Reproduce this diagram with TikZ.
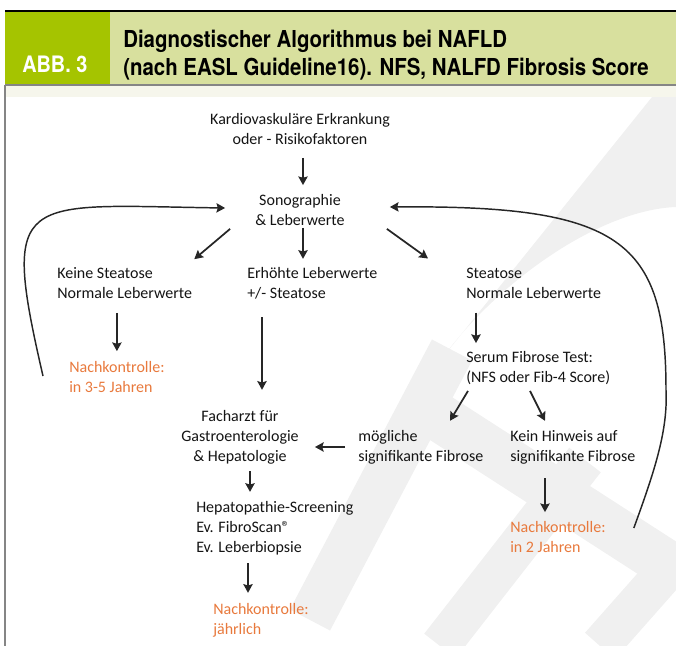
\documentclass[tikz,border=0pt]{standalone}
\usepackage{fontspec}
\setmainfont{Carlito}
\newfontfamily\headfont[FakeStretch=0.876]{TeX Gyre Heros}
\usetikzlibrary{arrows.meta, calc}

\definecolor{abbgreen}{HTML}{A5C400}
\definecolor{headgreen}{HTML}{D8E09E}
\definecolor{stripe}{HTML}{F6F6EC}
\definecolor{frame}{HTML}{858585}
\definecolor{nkorange}{HTML}{E8793C}
\definecolor{wm}{HTML}{F0F0F0}

\tikzset{
  step text/.style={inner sep=0pt, font=\fontsize{12}{15}\selectfont, text=black!92},
  left text/.style={step text, anchor=west, align=left},
  mid text/.style={step text, align=center},
  check text/.style={left text, text=nkorange},
  arr/.style={-{Stealth[length=6.5pt,width=7pt,inset=1pt]}, line width=1.3pt, black!85},
  loop/.style={arr, line width=1.1pt}
}

\begin{document}
\begin{tikzpicture}[x=0.75pt,y=-0.75pt]
\useasboundingbox (0,0) rectangle (676,646);
% faint watermark behind everything
\fill[wm] (652,97) -- (676,97) -- (676,207) .. controls (600,210) and (500,280) .. (443,357) -- cycle;
\draw[wm, line width=34pt] (452,350) -- (310,620);
\draw[wm, line width=36pt] (420,405) -- (676,570);
\draw[wm, line width=30pt] (440,646) -- (585,460);
\draw[wm, line width=30pt] (600,646) -- (676,560);
% header
\fill[headgreen] (110,12) rectangle (676,85);
\fill[abbgreen] (5,12) rectangle (110,85);
\draw[black, line width=1.6pt] (5,11) -- (676,11);
\fill[stripe] (6,86) rectangle (676,97);
\draw[frame, line width=1pt] (5,85) -- (676,85);
\draw[frame, line width=1.4pt] (5,85) -- (5,646);
\node[anchor=base west, inner sep=0pt, text=white, font=\headfont\bfseries\fontsize{17}{21}\selectfont] (abb) at (22,72) {ABB. 3};
\node[anchor=north west, inner sep=0pt, align=left, font=\headfont\bfseries\fontsize{17.5}{21}\selectfont] (title) at (123,30)
  {Diagnostischer Algorithmus bei NAFLD\\(nach EASL Guideline16). NFS, NALFD Fibrosis Score};

% flow chart
\node[mid text] (risk) at (300,129) {Kardiovaskuläre Erkrankung\\oder - Risikofaktoren};
\node[mid text] (sono) at (300,210) {Sonographie\\\& Leberwerte};
\node[left text] (keine) at (57,283) {Keine Steatose\\Normale Leberwerte};
\node[left text] (erhoeht) at (247,283) {Erhöhte Leberwerte\\+/- Steatose};
\node[left text] (steatose) at (466,283) {Steatose\\Normale Leberwerte};
\node[check text] (nkfive) at (69,377) {Nachkontrolle:\\in 3-5 Jahren};
\node[left text] (serum) at (466,368) {Serum Fibrose Test:\\(NFS oder Fib-4 Score)};
\node[mid text] (facharzt) at (240,437) {Facharzt für\\Gastroenterologie\\\& Hepatologie};
\node[left text] (moeglich) at (358,447) {mögliche\\signifikante Fibrose};
\node[left text] (kein) at (510,447) {Kein Hinweis auf\\signifikante Fibrose};
\node[left text] (hepato) at (196,528) {Hepatopathie-Screening\\Ev. FibroScan®\\Ev. Leberbiopsie};
\node[check text] (nktwo) at (510,537) {Nachkontrolle:\\in 2 Jahren};
\node[check text] (nkyear) at (213,620) {Nachkontrolle:\\jährlich};

% arrows
\draw[arr] ([shift={(3,13)}]risk.south) -- ([shift={(3,-9)}]sono.north);
\draw[arr] ([shift={(-25,3)}]sono.south west) -- ([shift={(2,-8)}]keine.north east);
\draw[arr] ([shift={(3,2)}]sono.south) -- ([shift={(3,-8)}]sono.south |- erhoeht.north);
\draw[arr] ([shift={(42,3)}]sono.south east) -- ([shift={(-38,-9)}]steatose.north west);
\draw[arr] ([shift={(0,14)}]nkfive.north |- keine.south) -- ([shift={(0,-10)}]nkfive.north);
\draw[arr] ([shift={(15,18)}]erhoeht.south west) -- ([shift={(15,-20)}]erhoeht.south west |- facharzt.north);
\draw[arr] ([shift={(10,14)}]steatose.south west) -- ([shift={(10,-8)}]serum.north west);
\draw[arr] ([shift={(2,6)}]serum.south west) -- ([shift={(-16,-9)}]serum.south west |- moeglich.north);
\draw[arr] ([shift={(64,6)}]serum.south west) -- ([shift={(35,-9)}]kein.north west);
\draw[arr] ([shift={(-13,0)}]moeglich.west) -- ([shift={(16,0)}]facharzt.east |- moeglich.west);
\draw[arr] ([shift={(10,7)}]facharzt.south) -- ([shift={(10,-9)}]facharzt.south |- hepato.north);
\draw[arr] ([shift={(52,8)}]hepato.south west) -- ([shift={(35,-10)}]nkyear.north west);
\draw[arr] ([shift={(35,14)}]kein.south west) -- ([shift={(35,-9)}]nktwo.north west);

% follow-up loops back to the sonography
\draw[loop] ([shift={(-26,-1)}]nkfive.west) .. controls (0,190) and (20,205) .. ([shift={(-30,-2)}]sono.west);
\draw[loop] ([shift={(28,-9)}]nktwo.east) .. controls (655,470) and (668,430) .. (666,390)
  .. controls (666,240) and (620,205) .. ([shift={(45,-3)}]sono.east);
\end{tikzpicture}
\end{document}
